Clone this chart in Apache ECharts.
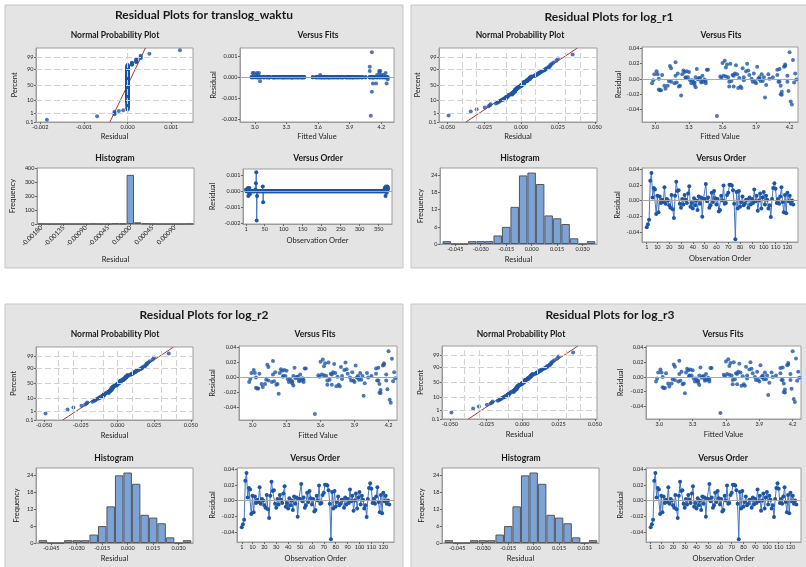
<!DOCTYPE html>
<html>
<head>
<meta charset="utf-8">
<script src="https://cdn.jsdelivr.net/npm/echarts@6/dist/echarts.min.js"></script>
<style>
html,body{margin:0;padding:0;background:#fff;}
#chart{width:806px;height:567px;}
</style>
</head>
<body>
<div id="chart"></div>
<script>
// ---------- data ----------
// residuals of the log_r models, in observation order
const logResid = [
 -0.034,-0.030,-0.0245,0.025,0.035,0.004,0.016,0.014,-0.017,0.006,
 -0.015,0.005,-0.003,0.001,-0.002,0.017,-0.004,0.002,0.000,-0.006,
 -0.009,0.007,-0.011,-0.022,0.006,0.024,0.012,0.013,-0.004,-0.009,
 0.002,-0.005,0.007,0.001,-0.003,0.009,0.018,-0.008,-0.003,-0.010,
 0.003,-0.006,0.000,-0.012,0.005,-0.004,0.004,-0.0205,0.002,0.002,
 0.021,-0.001,0.004,-0.009,-0.006,0.010,-0.002,0.012,0.003,-0.005,
 0.002,-0.014,-0.012,0.006,0.000,0.019,-0.004,-0.003,0.007,0.010,
 0.020,0.020,0.019,0.013,-0.004,-0.049,0.011,-0.010,0.012,-0.008,
 -0.002,0.005,-0.006,-0.004,0.001,0.001,-0.009,0.004,-0.005,0.002,
 -0.003,0.014,-0.001,0.006,-0.013,0.000,0.009,-0.010,0.004,0.011,
 -0.005,0.006,0.001,-0.010,-0.006,-0.021,0.002,0.016,0.022,0.015,
 -0.003,0.002,-0.004,0.005,0.017,-0.002,-0.015,0.007,-0.016,0.010,
 -0.001,0.006,-0.004,0.000,-0.005
];
// fitted values of the log_r models, same order
const logFits = [
 4.22,4.21,3.98,4.23,4.20,4.18,4.15,3.14,4.13,3.02,
 3.05,3.84,3.41,3.75,3.33,3.13,3.66,3.27,3.92,3.45,
 3.08,3.71,3.36,3.23,4.01,3.62,4.09,4.11,4.10,4.12,
 3.97,3.19,3.88,3.39,3.68,3.26,3.72,3.35,3.94,3.21,
 3.58,3.32,3.93,3.77,4.09,4.11,3.42,4.12,3.65,3.29,
 3.60,3.38,3.70,3.11,3.90,3.28,3.79,3.46,3.63,3.34,
 4.05,3.03,3.74,3.24,3.86,3.64,3.43,3.96,3.20,3.81,
 3.82,3.67,4.16,3.37,3.89,3.55,3.25,3.76,3.47,3.99,
 3.31,3.69,3.17,3.87,3.40,3.59,3.22,3.61,3.35,3.93,
 3.12,3.78,3.44,3.73,3.09,4.02,3.30,3.66,3.18,3.83,
 3.41,3.95,3.27,3.70,2.97,4.13,3.36,3.91,3.18,3.63,
 3.45,3.79,3.14,3.06,4.16,2.98,3.04,4.25,4.19,3.01,
 4.26,2.99,4.18,3.03,4.24
];
// histogram of the log_r residuals (bin midpoints and frequencies)
const logHistMid = [-0.050,-0.045,-0.040,-0.035,-0.030,-0.025,-0.020,-0.015,-0.010,-0.005,0.000,0.005,0.010,0.015,0.020,0.025,0.030,0.035];
const logHistCount = [1,0,0,1,1,1,3,6,13,24,25,21,10,9,7,2,0,1];

// residuals of translog_waktu, in observation order (375 observations)
const waktuResid = [
 0.0001,0,0,0,0.0001,0.0002,-0.0003,0,0,0.0002,-0.0002,0,0,0,0,0,0,0,0,0,
 0,0,0,0,0,0.0001,0.0005,0.0012,-0.00185,-0.0003,0,0,0,0,0,0,0,0,0,0,
 0,0,0,0,0.0003,-0.0007,0,0,0,0,0,0,0,0,0,0,0,0,0,0,
 0,0,0,0,0,0,0,0,0,0,0,0,0,0,0,0,0,0,0,0,
 0,0,0,0,0,0,0,0,0,0,0,0,0,0,0,0,0,0,0,0,
 0,0,0,0,0,0,0,0,0,0,0,0,0,0,0,0,0,0,0,0,
 0,0,0,0,0,0,0,0,0,0,0,0,0,0,0,0,0,0,0,0,
 0,0,0,0,0,0,0,0,0,0,0,0,0,0,0,0,0,0,0,0,
 0,0,0,0,0,0,0,0,0,0,0,0,0,0,0,0,0,0,0,0,
 0,0,0,0,0,0,0,0,0,0,0,0,0,0,0,0,0,0,0,0,
 0,0,0,0,0,0,0,0,0,0,0,0,0,0,0,0,0,0,0,0,
 0,0,0,0,0,0,0,0,0,0,0,0,0,0,0,0,0,0,0,0,
 0,0,0,0,0,0,0,0,0,0,0,0,0,0,0,0,0,0,0,0,
 0,0,0,0,0,0,0,0,0,0,0,0,0,0,0,0,0,0,0,0,
 0,0,0,0,0,0,0,0,0,0,0,0,0,0,0,0,0,0,0,0,
 0,0,0,0,0,0,0,0,0,0,0,0,0,0,0,0,0,0,0,0,
 0,0,0,0,0,0,0,0,0,0,0,0,0,0,0,0,0,0,0,0,
 0,0,0,0,0,0,0,0,0,0,0,0,0,0,0,0,0,0,0,0,
 0,0,0,0,0.0001,0.0002,0.0002,-0.0003,0.0003,0.0001,-0.0001,0.0002,0.0003,0.0001,0.0002
];
// translog_waktu stacks the three log_r blocks, so it shares their fitted values
const waktuFits = [...logFits, ...logFits, ...logFits];
// histogram of the translog_waktu residuals
const waktuHistMid = [-0.0018,-0.00165,-0.0015,-0.00135,-0.0012,-0.00105,-0.0009,-0.00075,-0.0006,-0.00045,-0.0003,-0.00015,0,0.00015,0.0003,0.00045,0.0006,0.00075,0.0009,0.00105,0.0012];
const waktuHistCount = [1,0,0,0,0,0,0,1,0,0,3,2,351,12,3,1,0,0,0,0,1];

// tick labels and grid positions
const probTicks = [0.1, 1, 10, 50, 90, 99, 99.9];
const probGridPct = [1, 10, 50, 90, 99];
const waktuResidTicks = [-0.002, -0.001, 0.000, 0.001];
const waktuNppGrid = [-0.002, -0.0015, -0.001, -0.0005, 0, 0.0005, 0.001];
const waktuHistTicks = [-0.0018, -0.00135, -0.0009, -0.00045, 0, 0.00045, 0.0009];
const waktuOrderTicks = [1, 50, 100, 150, 200, 250, 300, 350];
const logNppTicks = [-0.050, -0.025, 0.000, 0.025, 0.050];
const logNppGrid = [-0.0375, -0.025, -0.0125, 0, 0.0125, 0.025, 0.0375];
const logResidTicks = [-0.04, -0.02, 0.00, 0.02, 0.04];
const logHistTicks = [-0.045, -0.030, -0.015, 0.000, 0.015, 0.030];
const logFreqTicks = [0, 6, 12, 18, 24];
const waktuFreqTicks = [0, 100, 200, 300, 400];
const fitTicks = [3.0, 3.3, 3.6, 3.9, 4.2];
const logOrderTicks = [1, 10, 20, 30, 40, 50, 60, 70, 80, 90, 100, 110, 120];

// ---------- helpers ----------
function invNorm(p) {
  const a=[-3.969683028665376e+01,2.209460984245205e+02,-2.759285104469687e+02,1.383577518672690e+02,-3.066479806614716e+01,2.506628277459239e+00];
  const b=[-5.447609879822406e+01,1.615858368580409e+02,-1.556989798598866e+02,6.680131188771972e+01,-1.328068155288572e+01];
  const c=[-7.784894002430293e-03,-3.223964580411365e-01,-2.400758277161838e+00,-2.549732539343734e+00,4.374664141464968e+00,2.938163982698783e+00];
  const d=[7.784695709041462e-03,3.224671290700398e-01,2.445134137142996e+00,3.754408661907416e+00];
  const pl = 0.02425;
  let q, r;
  if (p < pl) {
    q = Math.sqrt(-2 * Math.log(p));
    return (((((c[0]*q+c[1])*q+c[2])*q+c[3])*q+c[4])*q+c[5]) / ((((d[0]*q+d[1])*q+d[2])*q+d[3])*q+1);
  }
  if (p <= 1 - pl) {
    q = p - 0.5; r = q * q;
    return (((((a[0]*r+a[1])*r+a[2])*r+a[3])*r+a[4])*r+a[5])*q / (((((b[0]*r+b[1])*r+b[2])*r+b[3])*r+b[4])*r+1);
  }
  q = Math.sqrt(-2 * Math.log(1 - p));
  return -(((((c[0]*q+c[1])*q+c[2])*q+c[3])*q+c[4])*q+c[5]) / ((((d[0]*q+d[1])*q+d[2])*q+d[3])*q+1);
}

const FONT = 'Lato, "Noto Sans", "DejaVu Sans", sans-serif';
const BLUE = '#1d56a6';
const LINE_BLUE = '#4477c4';
const FRAME = '#9c9c9c';
const Z_LO = invNorm(0.001), Z_HI = invNorm(0.999);

const option = {
  animation: false,
  backgroundColor: '#ffffff',
  textStyle: { fontFamily: FONT },
  grid: [], xAxis: [], yAxis: [], series: [], graphic: []
};

function makeAxis(gi, cfg, isX) {
  const ax = {
    gridIndex: gi, type: 'value', min: cfg.min, max: cfg.max,
    axisLine: { show: true, onZero: false, lineStyle: { color: FRAME, width: 1 } },
    axisTick: { show: true, length: 2, customValues: cfg.ticks, lineStyle: { color: '#666', width: 1 } },
    axisLabel: { show: true, fontSize: cfg.labelSize || 5.5, color: '#1e1e1e', margin: 2.5, fontFamily: FONT,
                 customValues: cfg.ticks, formatter: cfg.fmt, rotate: cfg.rotate || 0, hideOverlap: false },
    splitLine: { show: false },
    name: cfg.name, nameLocation: 'middle', nameGap: cfg.gap,
    nameTextStyle: { fontSize: 7.5, color: '#222', fontFamily: FONT }
  };
  if (!isX) ax.nameRotate = 90;
  return ax;
}

function addPlot(rect, xCfg, yCfg) {
  const gi = option.grid.length;
  option.grid.push({ left: rect[0], top: rect[1], width: rect[2], height: rect[3],
    show: true, backgroundColor: '#ffffff', borderColor: FRAME, borderWidth: 1 });
  option.xAxis.push(makeAxis(gi, xCfg, true));
  option.yAxis.push(makeAxis(gi, yCfg, false));
  return gi;
}

function addText(x, y, text, size, weight) {
  option.graphic.push({ type: 'text', x: x, y: y, z: 10,
    style: { text: text, fontSize: size, fontWeight: weight, fontFamily: FONT, fill: '#1a1a1a',
             align: 'center', verticalAlign: 'middle' } });
}

const fmt = d => v => v.toFixed(d);
const probFmt = v => {
  for (const p of probTicks) if (Math.abs(invNorm(p / 100) - v) < 1e-6) return String(p);
  return '';
};

const zeroLine = {
  silent: true, symbol: 'none', label: { show: false },
  lineStyle: { color: '#a8a8a8', width: 1, type: 'solid' },
  data: [{ yAxis: 0 }]
};

// ---------- one residual-plot panel ----------
function buildPanel(P, D) {
  option.graphic.push({ type: 'rect', z: -5, shape: { x: P.box[0], y: P.box[1], width: P.box[2], height: P.box[3] },
    style: { fill: '#e4e4e4', stroke: '#c6c6c6', lineWidth: 1 } });
  addText(P.title[0], P.title[1], 'Residual Plots for ' + D.name, 12, 'bold');
  addText(P.tNpp[0], P.tNpp[1], 'Normal Probability Plot', 8.5, 'bold');
  addText(P.tVf[0], P.tVf[1], 'Versus Fits', 8.5, 'bold');
  addText(P.tHist[0], P.tHist[1], 'Histogram', 8.5, 'bold');
  addText(P.tVo[0], P.tVo[1], 'Versus Order', 8.5, 'bold');

  // normal probability plot
  const n = D.resid.length;
  const sorted = D.resid.slice().sort((a, b) => a - b);
  const nppPts = sorted.map((r, i) => [r, invNorm((i + 1 - 0.3) / (n + 0.4))]);
  const mean = D.resid.reduce((s, v) => s + v, 0) / n;
  const sd = Math.sqrt(D.resid.reduce((s, v) => s + (v - mean) * (v - mean), 0) / (n - 1));
  const probVals = probTicks.map(p => invNorm(p / 100));
  let g = addPlot(P.npp,
    { min: D.nppX[0], max: D.nppX[1], ticks: D.nppTicks, fmt: fmt(3), name: 'Residual', gap: P.gx[0] },
    { min: Z_LO, max: Z_HI, ticks: probVals, fmt: probFmt, name: 'Percent', gap: P.gy[0] });
  option.series.push({
    type: 'line', xAxisIndex: g, yAxisIndex: g, data: [], silent: true, z: 1,
    markLine: { silent: true, symbol: 'none', label: { show: false }, animation: false,
      lineStyle: { color: '#d2d2d2', width: 1, type: [6, 3] },
      data: probGridPct.map(p => ({ yAxis: invNorm(p / 100) })).concat(D.nppGrid.map(v => ({ xAxis: v }))) }
  });
  option.series.push({
    type: 'line', xAxisIndex: g, yAxisIndex: g, symbol: 'none', silent: true, z: 2,
    lineStyle: { color: '#b8312f', width: 1 },
    data: [[mean + sd * Z_LO, Z_LO], [mean + sd * Z_HI, Z_HI]]
  });
  option.series.push({
    type: 'scatter', xAxisIndex: g, yAxisIndex: g, symbol: 'circle', symbolSize: 4, z: 3,
    itemStyle: { color: BLUE }, data: nppPts
  });

  // versus fits
  g = addPlot(P.vf,
    { min: D.fitX[0], max: D.fitX[1], ticks: fitTicks, fmt: fmt(1), name: 'Fitted Value', gap: P.gx[1] },
    { min: D.vfY[0], max: D.vfY[1], ticks: D.residTicks, fmt: fmt(D.residDec), name: 'Residual', gap: P.gy[1] });
  option.series.push({
    type: 'scatter', xAxisIndex: g, yAxisIndex: g, symbol: 'circle', symbolSize: 4,
    itemStyle: { color: BLUE }, markLine: zeroLine,
    data: D.resid.map((r, i) => [D.fits[i], r])
  });

  // histogram
  g = addPlot(P.hist,
    { min: D.histX[0], max: D.histX[1], ticks: D.histTicks, fmt: fmt(D.histDec), rotate: D.histRot,
      labelSize: D.histLabelSize, name: 'Residual', gap: P.gx[2] },
    { min: 0, max: D.freqMax, ticks: D.freqTicks, fmt: v => String(v), name: 'Frequency', gap: P.gy[2] });
  const binPx = P.hist[2] * D.binW / (D.histX[1] - D.histX[0]);
  option.series.push({
    type: 'bar', xAxisIndex: g, yAxisIndex: g, barWidth: binPx,
    itemStyle: { color: '#7ba3d8', borderColor: '#555555', borderWidth: 1 },
    data: D.histMid.map((m, i) => [m, D.histCount[i]])
  });

  // versus order
  g = addPlot(P.vo,
    { min: D.orderX[0], max: D.orderX[1], ticks: D.orderTicks, fmt: v => String(v), name: 'Observation Order', gap: P.gx[3] },
    { min: D.voY[0], max: D.voY[1], ticks: D.residTicks, fmt: fmt(D.residDec), name: 'Residual', gap: P.gy[3] });
  option.series.push({
    type: 'line', xAxisIndex: g, yAxisIndex: g, symbol: 'circle', symbolSize: 4, showSymbol: true,
    lineStyle: { color: LINE_BLUE, width: 1 }, itemStyle: { color: BLUE },
    markLine: zeroLine,
    data: D.resid.map((r, i) => [i + 1, r])
  });
}

// ---------- datasets ----------
const waktu = {
  name: 'translog_waktu', resid: waktuResid, fits: waktuFits,
  nppX: [-0.0021, 0.0015], nppTicks: waktuResidTicks, nppGrid: waktuNppGrid,
  fitX: [2.86, 4.32], vfY: [-0.00215, 0.0014], residTicks: waktuResidTicks, residDec: 3,
  histX: [-0.00189, 0.00129], histTicks: waktuHistTicks, histDec: 5, histRot: 45, histLabelSize: 6.5, binW: 0.00015,
  histMid: waktuHistMid, histCount: waktuHistCount, freqMax: 400, freqTicks: waktuFreqTicks,
  orderX: [-7, 385], orderTicks: waktuOrderTicks, voY: [-0.00207, 0.0014]
};
function logSet(name) {
  return {
    name: name, resid: logResid, fits: logFits,
    nppX: [-0.0555, 0.0515], nppTicks: logNppTicks, nppGrid: logNppGrid,
    fitX: [2.88, 4.275], vfY: [-0.057, 0.042], residTicks: logResidTicks, residDec: 2,
    histX: [-0.054, 0.0385], histTicks: logHistTicks, histDec: 3, histRot: 0, histLabelSize: 5.5, binW: 0.005,
    histMid: logHistMid, histCount: logHistCount, freqMax: 26.6, freqTicks: logFreqTicks,
    orderX: [-3, 129], orderTicks: logOrderTicks, voY: [-0.0526, 0.0413]
  };
}

// ---------- layout ----------
const panels = [
  { box: [5, 5, 398, 263], title: [204, 15],
    npp: [36, 48, 157, 74], vf: [240, 48, 154, 74], hist: [37, 168, 157, 56], vo: [243, 169, 149, 55],
    tNpp: [115, 35], tVf: [318, 35], tHist: [115, 158], tVo: [318, 158],
    gx: [11, 11, 32, 13], gy: [17, 21, 20, 26] },
  { box: [411, 5, 400, 263], title: [609, 17],
    npp: [439, 48, 158, 74], vf: [642, 47, 156, 75], hist: [440, 168, 157, 76], vo: [642, 168, 156, 74],
    tNpp: [520, 35], tVf: [721, 35], tHist: [520, 158], tVo: [721, 158],
    gx: [11, 11, 12, 13], gy: [17, 19, 15, 20] },
  { box: [5, 304, 398, 270], title: [204, 315],
    npp: [36, 347, 157, 73], vf: [239, 346, 158, 74], hist: [36, 468, 157, 75], vo: [237, 468, 157, 74],
    tNpp: [115, 334], tVf: [315, 334], tHist: [114, 458], tVo: [315, 458],
    gx: [12, 12, 12, 13], gy: [18, 22, 15, 20] },
  { box: [411, 304, 400, 270], title: [610, 315],
    npp: [442, 346, 155, 73], vf: [646, 346, 155, 73], hist: [442, 468, 157, 75], vo: [646, 468, 155, 74],
    tNpp: [521, 334], tVf: [723, 334], tHist: [521, 458], tVo: [723, 458],
    gx: [12, 12, 12, 13], gy: [17, 21, 16, 21] }
];

buildPanel(panels[0], waktu);
buildPanel(panels[1], logSet('log_r1'));
buildPanel(panels[2], logSet('log_r2'));
buildPanel(panels[3], logSet('log_r3'));

const chart = echarts.init(document.getElementById('chart'), null, { renderer: 'canvas' });
chart.setOption(option);
</script>
</body>
</html>
